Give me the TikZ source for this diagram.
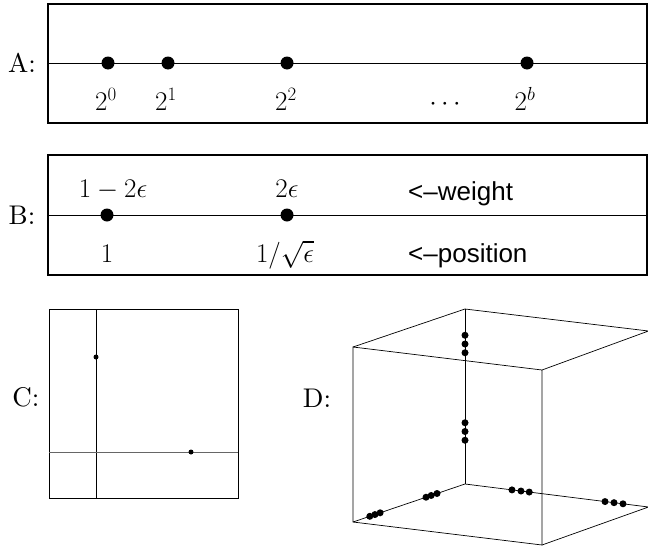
\RequirePackage{fix-cm}
\documentclass[tikz,border=0pt]{standalone}
\usepackage{amsmath,amssymb}
\usepackage{fontspec}
\setmainfont{lmroman10-regular.otf}
\newfontfamily\notefont{Liberation Sans}
\usetikzlibrary{calc}

\begin{document}
\begin{tikzpicture}[x=1pt,y=-1pt,
  panel/.style={draw,line width=1.2pt},
  axisline/.style={line width=1pt},
  thinline/.style={line width=0.7pt},
  bigdot/.style={circle,fill,inner sep=0pt,minimum size=13pt},
  smalldot/.style={circle,fill,inner sep=0pt,minimum size=5pt},
  cubedot/.style={circle,fill,inner sep=0pt,minimum size=7pt},
  lbl/.style={font=\fontsize{27}{30}\selectfont,inner sep=0pt},
  note/.style={font=\notefont\fontsize{26}{30}\selectfont,inner sep=0pt,anchor=base west}]
\useasboundingbox (0,0) rectangle (648,549);

% panel A
\draw[panel] (48,4) rectangle (647,123);
\coordinate (aL) at (48,63);
\coordinate (aR) at (647,63);
\draw[axisline] (aL) -- (aR);
\node[lbl] (labA) at (22,63) {A:};
\node[bigdot] (a0) at (108,63) {};
\node[bigdot] (a1) at (168,63) {};
\node[bigdot] (a2) at (287,63) {};
\node[bigdot] (ab) at (527,63) {};
\node[lbl,anchor=base] (pa0) at (106,110) {$2^0$};
\node[lbl,anchor=base] (pa1) at (166,110) {$2^1$};
\node[lbl,anchor=base] (pa2) at (286,110) {$2^2$};
\node[lbl,anchor=base] (pdots) at (445,110) {${\cdot}\mkern3mu{\cdot}\mkern3mu{\cdot}$};
\node[lbl,anchor=base] (pab) at (525,110) {$2^b$};

% panel B
\draw[panel] (48,155) rectangle (647,275);
\coordinate (bL) at (48,215);
\coordinate (bR) at (647,215);
\draw[axisline] (bL) -- (bR);
\node[lbl] (labB) at (22,215) {B:};
\node[bigdot] (b1) at (107,215) {};
\node[bigdot] (b2) at (287,215) {};
\node[lbl,anchor=base] (w1) at (113,197) {$1-2\epsilon$};
\node[lbl,anchor=base] (w2) at (287,197) {$2\epsilon$};
\node[note] (wnote) at (408,200) {<–weight};
\node[lbl,anchor=base] (x1) at (107,262) {$1$};
\node[lbl,anchor=base] (x2) at (285,262) {$1/\sqrt{\epsilon}$};
\node[note] (xnote) at (408,262) {<–position};

% panel C
\draw[thinline] (49,309) rectangle (238,498);
\coordinate (cT) at (96,309);
\coordinate (cB) at (96,498);
\coordinate (cL) at (49,452);
\coordinate (cR) at (238,452);
\draw[thinline] (cT) -- (cB);
\draw[line width=0.5pt,black!60] (cL) -- (cR);
\node[lbl] (labC) at (26,397) {C:};
\node[smalldot] (c1) at (96,357) {};
\node[smalldot] (c2) at (191,452) {};

% panel D
\node[lbl] (labD) at (317,398) {D:};
\coordinate (ftl) at (353,347);
\coordinate (ftr) at (542,370);
\coordinate (fbl) at (353,522);
\coordinate (fbr) at (542,545);
\coordinate (btl) at (465,309);
\coordinate (btr) at (648.5,331);
\coordinate (bbl) at (465,484);
\coordinate (bbr) at (648.5,507);
\draw[thinline] (ftl) -- (ftr) -- (fbr) -- (fbl) -- cycle;
\draw[thinline] (ftl) -- (btl) -- (btr) -- (ftr);
\draw[thinline] (fbl) -- (bbl) -- (bbr) -- (fbr);
\draw[thinline] (btl) -- (bbl);
\draw[thinline] (btr) -- (bbr);
\foreach \t [count=\i] in {0.15,0.2,0.25,0.65,0.7,0.75}
  \node[cubedot] (dz\i) at ($(btl)!\t!(bbl)$) {};
\foreach \t [count=\i] in {0.15,0.196,0.242,0.652,0.698,0.75}
  \node[cubedot] (dx\i) at ($(fbl)!\t!(bbl)$) {};
\foreach \t [count=\i] in {0.256,0.305,0.35,0.763,0.812,0.861}
  \node[cubedot] (dy\i) at ($(bbl)!\t!(bbr)$) {};
\end{tikzpicture}
\end{document}
